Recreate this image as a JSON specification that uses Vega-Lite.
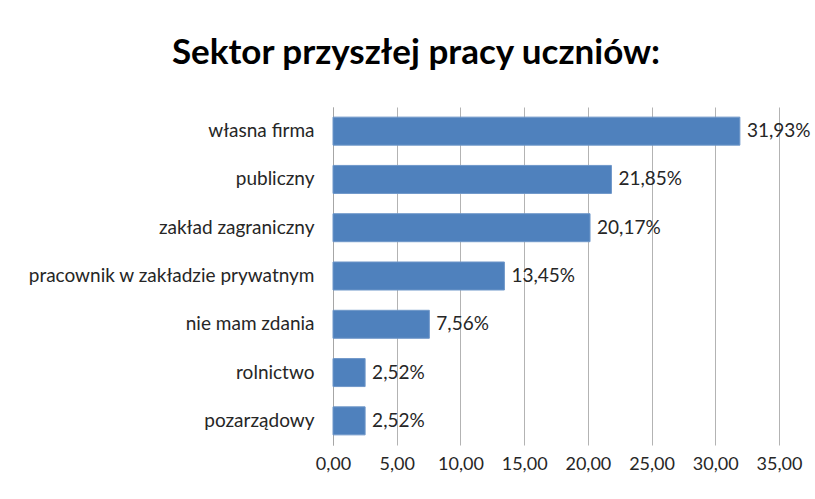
{
  "$schema": "https://vega.github.io/schema/vega-lite/v6.json",
  "width": 446,
  "height": 338,
  "autosize": {"type": "none"},
  "padding": {"left": 333, "top": 107, "right": 36, "bottom": 54},
  "background": "white",
  "title": {
    "text": "Sektor przyszłej  pracy uczniów:",
    "font": "Lato",
    "fontSize": 35,
    "fontWeight": "bold",
    "color": "#000000",
    "anchor": "middle",
    "dx": -140,
    "offset": 36
  },
  "data": {
    "values": [
      {"sektor": "własna firma", "value": 31.93, "label": "31,93%"},
      {"sektor": "publiczny", "value": 21.85, "label": "21,85%"},
      {"sektor": "zakład zagraniczny", "value": 20.17, "label": "20,17%"},
      {"sektor": "pracownik w zakładzie prywatnym", "value": 13.45, "label": "13,45%"},
      {"sektor": "nie mam zdania", "value": 7.56, "label": "7,56%"},
      {"sektor": "rolnictwo", "value": 2.52, "label": "2,52%"},
      {"sektor": "pozarządowy", "value": 2.52, "label": "2,52%"}
    ]
  },
  "encoding": {
    "y": {
      "field": "sektor",
      "type": "nominal",
      "sort": null,
      "scale": {"paddingInner": 0.42, "paddingOuter": 0.21},
      "axis": {
        "title": null,
        "ticks": false,
        "domainColor": "#a6a6a6",
        "labelFont": "Lato",
        "labelFontSize": 19,
        "labelColor": "#262626",
        "labelPadding": 19,
        "labelLimit": 400
      }
    },
    "x": {
      "field": "value",
      "type": "quantitative",
      "scale": {"domain": [0, 35], "nice": false},
      "axis": {
        "title": null,
        "values": [0, 5, 10, 15, 20, 25, 30, 35],
        "labelExpr": "replace(format(datum.value, '.2f'), '.', ',')",
        "labelOverlap": false,
        "labelFlush": false,
        "domain": false,
        "ticks": false,
        "grid": true,
        "gridColor": "#b3b3b3",
        "gridWidth": 1,
        "labelFont": "Lato",
        "labelFontSize": 18,
        "labelColor": "#262626",
        "labelPadding": 10
      }
    }
  },
  "layer": [
    {
      "mark": {"type": "bar", "color": "#4f81bd", "stroke": "#6f97c9", "strokeWidth": 1}
    },
    {
      "mark": {
        "type": "text",
        "align": "left",
        "baseline": "middle",
        "dx": 7,
        "font": "Lato",
        "fontSize": 19,
        "color": "#262626"
      },
      "encoding": {"text": {"field": "label"}}
    }
  ],
  "config": {"view": {"stroke": null}}
}
